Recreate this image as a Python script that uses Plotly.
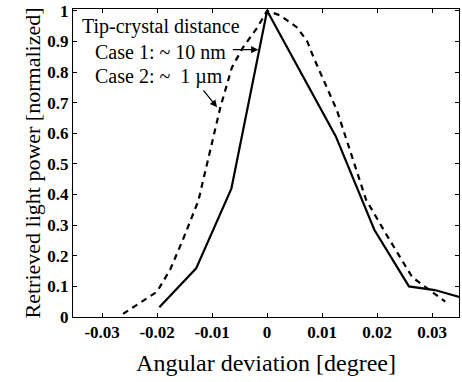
import plotly.graph_objects as go

# Case 1 (~10 nm), solid
case1_x = [-0.0196, -0.0129, -0.0065, 0.0, 0.0125, 0.0195, 0.0258, 0.0305, 0.035]
case1_y = [0.032, 0.159, 0.419, 1.0, 0.59, 0.285, 0.10, 0.088, 0.065]

# Case 2 (~1 um), dashed
case2_x = [-0.0262, -0.020, -0.0176, -0.0153, -0.0125, -0.0104, -0.0085, -0.0064,
           -0.0044, -0.0018, 0.0, 0.0024, 0.0055, 0.0073, 0.0084, 0.0127, 0.018,
           0.022, 0.0264, 0.0324]
case2_y = [0.01, 0.083, 0.156, 0.253, 0.38, 0.535, 0.685, 0.815, 0.88, 0.945, 1.0,
           0.985, 0.945, 0.90, 0.85, 0.675, 0.383, 0.26, 0.13, 0.05]

x_ticks = [-0.03, -0.02, -0.01, 0, 0.01, 0.02, 0.03]
x_ticklabels = ["-0.03", "-0.02", "-0.01", "0", "0.01", "0.02", "0.03"]
y_ticks = [0, 0.1, 0.2, 0.3, 0.4, 0.5, 0.6, 0.7, 0.8, 0.9, 1]
y_ticklabels = ["0", "0.1", "0.2", "0.3", "0.4", "0.5", "0.6", "0.7", "0.8", "0.9", "1"]

FONT = '"Liberation Serif", "Times New Roman", serif'

fig = go.Figure()
fig.add_trace(go.Scatter(x=case1_x, y=case1_y, mode="lines",
                         line=dict(color="black", width=2.2), showlegend=False))
fig.add_trace(go.Scatter(x=case2_x, y=case2_y, mode="lines",
                         line=dict(color="black", width=2.2, dash="6px,5px"), showlegend=False))

axis_common = dict(showgrid=False, zeroline=False, showline=True, linecolor="black",
                   linewidth=1, mirror="ticks", ticks="inside", ticklen=4,
                   tickcolor="black",
                   tickfont=dict(family=FONT, size=17, color="black", weight="bold"))

fig.update_xaxes(range=[-0.0353, 0.0349], tickvals=x_ticks, ticktext=x_ticklabels,
                 title=dict(text="Angular deviation [degree]",
                            font=dict(family=FONT, size=24, color="black"), standoff=12),
                 **axis_common)
fig.update_yaxes(range=[0, 1.006], tickvals=y_ticks, ticktext=y_ticklabels,
                 title=dict(text="Retrieved light power [normalized]",
                            font=dict(family=FONT, size=22, color="black"), standoff=0),
                 **axis_common)

ann_font = dict(family=FONT, size=20, color="black")
fig.add_annotation(x=-0.0340, y=0.948, xref="x", yref="y", text="Tip-crystal distance",
                   showarrow=False, xanchor="left", font=ann_font)
fig.add_annotation(x=-0.0317, y=0.864, xref="x", yref="y", text="Case 1: ~ 10 nm",
                   showarrow=False, xanchor="left", font=ann_font)
fig.add_annotation(x=-0.0317, y=0.786, xref="x", yref="y", text="Case 2: ~  1 µm",
                   showarrow=False, xanchor="left", font=ann_font)
# arrows
fig.add_annotation(x=-0.0016, y=0.873, ax=-0.0065, ay=0.873, xref="x", yref="y",
                   axref="x", ayref="y", text="", showarrow=True, arrowhead=2,
                   arrowsize=1.2, arrowwidth=1.2, arrowcolor="black")
fig.add_annotation(x=-0.0091, y=0.685, ax=-0.0118, ay=0.745, xref="x", yref="y",
                   axref="x", ayref="y", text="", showarrow=True, arrowhead=2,
                   arrowsize=1.2, arrowwidth=1.2, arrowcolor="black")

fig.update_layout(width=462, height=382, margin=dict(l=73, r=3, t=9, b=65),
                  paper_bgcolor="white", plot_bgcolor="white")
fig.write_html("out.html")
